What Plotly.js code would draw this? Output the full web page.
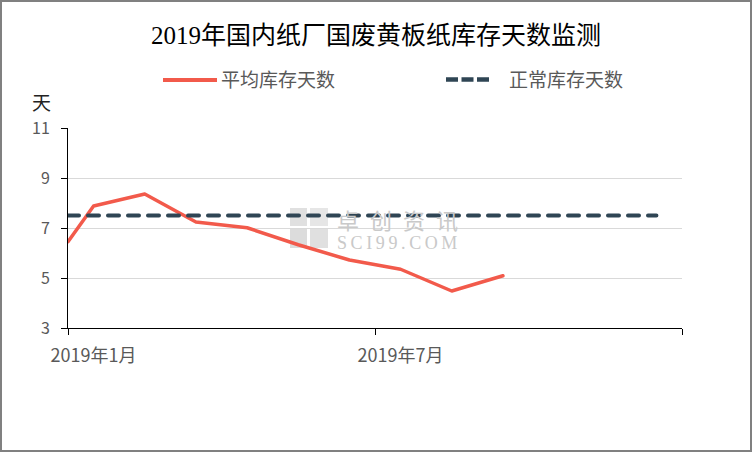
<!DOCTYPE html>
<html>
<head>
<meta charset="utf-8">
<script src="https://cdn.plot.ly/plotly-3.0.1.min.js"></script>
<style>
  html, body { margin: 0; padding: 0; background: #fff; }
  #wrap { position: relative; width: 752px; height: 452px; }
  #chart { width: 752px; height: 452px; }
  #frame { position: absolute; left: 0; top: 0; width: 752px; height: 452px; box-sizing: border-box;
           border: 2px solid #808080; pointer-events: none; z-index: 10; }
  .scatterlayer path.js-line { stroke-linecap: round; stroke-linejoin: round; }
</style>
</head>
<body>
<div id="wrap"><div id="chart"></div><div id="frame"></div></div>
<script>
// ---- data ----
const titleText = "2019年国内纸厂国废黄板纸库存天数监测";
const seriesNames = ["平均库存天数", "正常库存天数"];
// x in months since 2019-01 (0 = start of Jan)
const avgMonths = [0, 0.5, 1.5, 2.5, 3.5, 4.5, 5.5, 6.5, 7.5, 8.5];
const avgDays   = [6.45, 7.88, 8.36, 7.24, 7.01, 6.33, 5.72, 5.35, 4.48, 5.09];
const normMonths = [0, 0.5, 1.5, 2.5, 3.5, 4.5, 5.5, 6.5, 7.5, 8.5, 9.5, 10.5, 11.5];
const normDays   = [7.5, 7.5, 7.5, 7.5, 7.5, 7.5, 7.5, 7.5, 7.5, 7.5, 7.5, 7.5, 7.5];
const xTickVals = [0.5, 6.5];
const xTickText = ["2019年1月", "2019年7月"];
const xMarkVals = [0, 6, 12];
const yTickVals = [3, 5, 7, 9, 11];
const yUnit = "天";
const watermarkCn = "卓\u2002创\u2002资\u2002讯";
const watermarkEn = "S\u2009C\u2009I\u20099\u20099\u2009.\u2009C\u2009O\u2009M";

const RED = "#F25A4B";
const DARK = "#2F4554";
const GRAY = "#595959";
const SANS = "'Noto Sans CJK SC', 'Noto Sans', sans-serif";
const WM = "#c9c9c9";

const traces = [
  { x: avgMonths, y: avgDays, type: "scatter", mode: "lines", name: seriesNames[0],
    line: { color: RED, width: 3.5 }, showlegend: false, hoverinfo: "skip" },
  { x: normMonths, y: normDays, type: "scatter", mode: "lines", name: seriesNames[1],
    line: { color: DARK, width: 4, dash: "11px,9px" }, showlegend: false, hoverinfo: "skip" }
];

// paper coordinate helpers (plot area: x 68..682, y 128..328)
const px = v => (v - 68) / 614;
const py = v => (328 - v) / 200;

const layout = {
  width: 752, height: 452,
  margin: { l: 68, r: 70, t: 128, b: 124 },
  paper_bgcolor: "#fff", plot_bgcolor: "#fff",
  title: { text: titleText, x: 0.5, xref: "container", xanchor: "center",
           y: 1 - 35 / 452, yref: "container", yanchor: "middle",
           font: { family: "'Liberation Serif', 'Noto Sans CJK SC', serif", size: 25, color: "#000" } },
  xaxis: {
    range: [0, 12], showgrid: false, zeroline: false,
    showline: true, linecolor: "#000", linewidth: 1,
    tickmode: "array", tickvals: xTickVals, ticktext: xTickText,
    ticks: "outside", ticklen: 6, tickcolor: "rgba(0,0,0,0)",
    ticklabelstandoff: 5,
    tickfont: { family: SANS, size: 18, color: GRAY },
    minor: { tickmode: "array", tickvals: xMarkVals, ticks: "outside", ticklen: 6, tickcolor: "#000", tickwidth: 1, showgrid: false },
    fixedrange: true
  },
  yaxis: {
    range: [3, 11], tickmode: "array", tickvals: yTickVals,
    showgrid: true, gridcolor: "#d9d9d9", gridwidth: 1, zeroline: false,
    showline: true, linecolor: "#000", linewidth: 1,
    ticks: "outside", ticklen: 6, tickcolor: "#000",
    ticklabelstandoff: 8,
    tickfont: { family: SANS, size: 16, color: GRAY },
    fixedrange: true
  },
  shapes: [
    // watermark logo blocks
    { type: "rect", xref: "paper", yref: "paper", layer: "below", x0: px(290), x1: px(307), y0: py(208), y1: py(226), fillcolor: "#e0e0e0", line: { width: 0 } },
    { type: "rect", xref: "paper", yref: "paper", layer: "below", x0: px(310), x1: px(328), y0: py(208), y1: py(226), fillcolor: "#e6e6e6", line: { width: 0 } },
    { type: "rect", xref: "paper", yref: "paper", layer: "below", x0: px(290), x1: px(307), y0: py(229), y1: py(248), fillcolor: "#dcdcdc", line: { width: 0 } },
    { type: "rect", xref: "paper", yref: "paper", layer: "below", x0: px(310), x1: px(328), y0: py(229), y1: py(248), fillcolor: "#e0e0e0", line: { width: 0 } },
    // legend samples
    { type: "line", xref: "paper", yref: "paper", x0: px(163), x1: px(217), y0: py(80), y1: py(80), line: { color: RED, width: 4 } },
    { type: "line", xref: "paper", yref: "paper", x0: px(446), x1: px(489), y0: py(79.5), y1: py(79.5), line: { color: DARK, width: 4.5, dash: "12px,3.5px" } }
  ],
  annotations: [
    { text: "<span style='font-size:22px'>" + watermarkCn + "</span><br><span style=\"font-family:'Liberation Serif',serif;font-size:18px\">" + watermarkEn + "</span>",
      xref: "paper", yref: "paper", x: px(335), y: py(228), xanchor: "left", yanchor: "middle", align: "left", showarrow: false,
      font: { family: SANS, size: 15.5, color: WM } },
    { text: seriesNames[0], xref: "paper", yref: "paper", x: px(219), y: py(79), xanchor: "left", yanchor: "middle", showarrow: false,
      font: { family: SANS, size: 19, color: GRAY } },
    { text: seriesNames[1], xref: "paper", yref: "paper", x: px(507), y: py(79), xanchor: "left", yanchor: "middle", showarrow: false,
      font: { family: SANS, size: 19, color: GRAY } },
    { text: yUnit, xref: "paper", yref: "paper", x: px(41), y: py(101), xanchor: "center", yanchor: "middle", showarrow: false,
      font: { family: SANS, size: 19, color: "#222" } }
  ],
  showlegend: false
};

Plotly.newPlot("chart", traces, layout, { displayModeBar: false, staticPlot: true });
</script>
</body>
</html>
